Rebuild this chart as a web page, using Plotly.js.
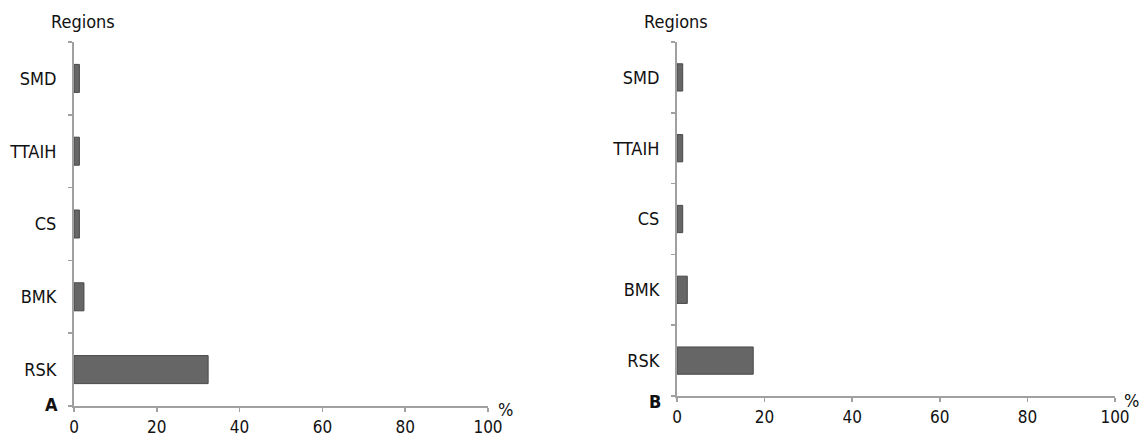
<!DOCTYPE html>
<html>
<head>
<meta charset="utf-8">
<script src="https://cdn.plot.ly/plotly-3.0.1.min.js"></script>
<style>
html,body{margin:0;padding:0;background:#fff;}
#chart{width:1146px;height:441px;}
</style>
</head>
<body>
<div id="chart"></div>
<script>
const regions = ["RSK", "BMK", "CS", "TTAIH", "SMD"];
const valuesA = [32.4, 2.4, 1.3, 1.3, 1.3];
const valuesB = [17.4, 2.35, 1.3, 1.3, 1.3];
const xTicks = [0, 20, 40, 60, 80, 100];
const panelLabels = ["A", "B"];

const W = 1146, H = 441;
const px = v => v / W;
const py = v => 1 - v / H;

const FONT = '"Liberation Sans Narrow", "Arial Narrow", "DejaVu Sans Condensed", sans-serif';
const axisColor = '#a0a0a0';
const textColor = '#111111';

function barTrace(vals, xa, ya) {
  return {
    type: 'bar', orientation: 'h',
    x: vals, y: regions,
    xaxis: xa, yaxis: ya,
    marker: {color: '#666666', line: {color: '#484848', width: 1}},
    hoverinfo: 'x+y', showlegend: false
  };
}

function xAxis(domain, anchor) {
  return {
    domain: domain, anchor: anchor,
    range: [0, 100], tickvals: xTicks, ticktext: xTicks.map(String),
    showgrid: false, zeroline: false,
    showline: true, linecolor: axisColor, linewidth: 2,
    ticks: 'outside', ticklen: 4, tickwidth: 1.5, tickcolor: axisColor,
    tickfont: {family: FONT, size: 17, color: textColor},
    ticklabelstandoff: 1,
    fixedrange: true
  };
}
function yAxis(domain, anchor) {
  return {
    domain: domain, anchor: anchor,
    type: 'category', categoryorder: 'array', categoryarray: regions,
    range: [-0.5, 4.5],
    showgrid: false, zeroline: false,
    showline: true, linecolor: axisColor, linewidth: 2,
    ticks: 'outside', tickson: 'boundaries', ticklen: 4, tickwidth: 1.5, tickcolor: axisColor,
    tickfont: {family: FONT, size: 18, color: textColor},
    ticklabelstandoff: 12,
    fixedrange: true
  };
}

const data = [barTrace(valuesA, 'x', 'y'), barTrace(valuesB, 'x2', 'y2')];

function label(text, x, y, size) {
  return {text: text, x: px(x), y: py(y), xref: 'paper', yref: 'paper',
          xanchor: 'center', yanchor: 'middle', showarrow: false,
          font: {family: FONT, size: size, color: textColor}};
}

const layout = {
  width: W, height: H,
  margin: {l: 0, r: 0, t: 0, b: 0},
  paper_bgcolor: '#fff', plot_bgcolor: '#fff',
  bargap: 0.615,
  xaxis: xAxis([px(74), px(488)], 'y'),
  yaxis: yAxis([py(406), py(42)], 'x'),
  xaxis2: xAxis([px(677), px(1115)], 'y2'),
  yaxis2: yAxis([py(396), py(42)], 'x2'),
  annotations: [
    label('Regions', 83, 21, 18),
    label('Regions', 676, 21, 18),
    label('<b>' + panelLabels[0] + '</b>', 51, 404, 18),
    label('<b>' + panelLabels[1] + '</b>', 655, 401, 18),
    label('%', 505, 409, 18),
    label('%', 1131, 400, 18)
  ]
};

Plotly.newPlot('chart', data, layout, {displayModeBar: false, staticPlot: true});
</script>
</body>
</html>
